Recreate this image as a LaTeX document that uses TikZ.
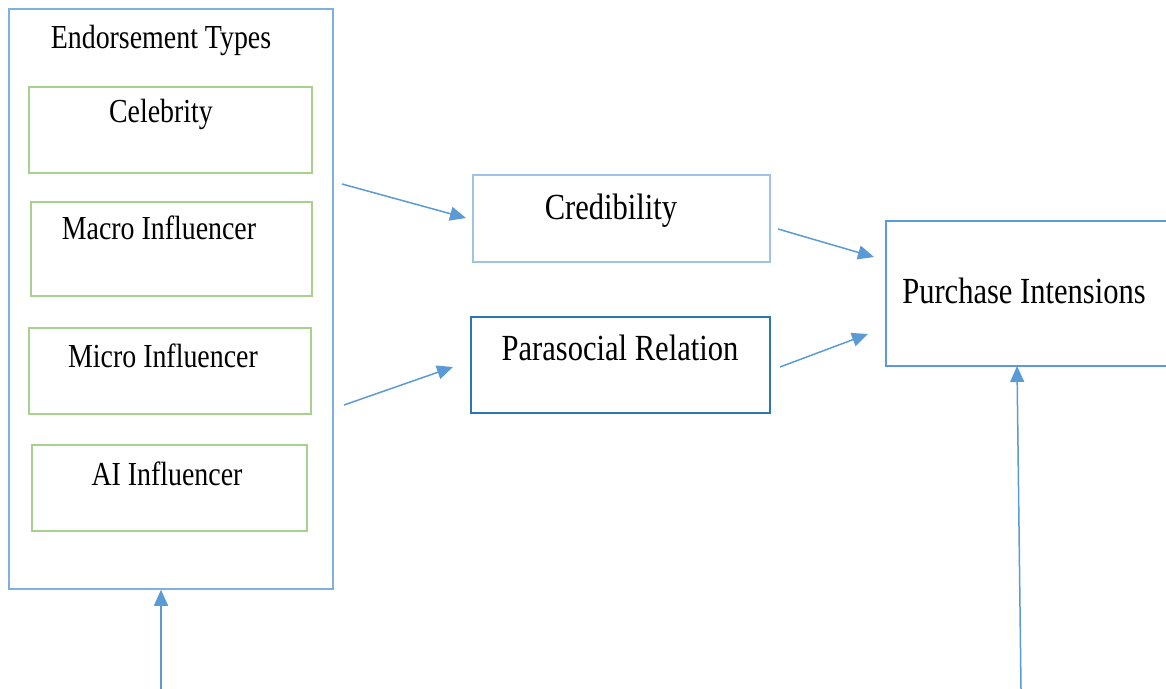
\documentclass[tikz,border=0pt]{standalone}
\usepackage{fontspec}
\setmainfont{Liberation Serif}[FakeStretch=0.83]
\usetikzlibrary{arrows.meta,calc}
\definecolor{outerblue}{HTML}{7EB0E0}
\definecolor{lightblue}{HTML}{9DC3E6}
\definecolor{darkblue}{HTML}{2E75B6}
\definecolor{midblue}{HTML}{5B9BD5}
\definecolor{leafgreen}{HTML}{A9D18E}
\tikzset{
  box/.style={draw, rectangle, inner sep=0pt},
  typebox/.style={box, draw=leafgreen, line width=0.6pt},
  label text/.style={anchor=base, inner sep=0pt, font=\fontsize{16.8}{20}\selectfont},
  big text/.style={label text, font=\fontsize{18.4}{22}\selectfont},
  link/.style={draw=midblue, line width=0.75pt, -{Triangle[length=8pt,width=7pt]}}
}
\begin{document}
\begin{tikzpicture}[x=0.5pt,y=-0.5pt]
    \useasboundingbox (0,0) rectangle (1166,689);
    % Tipos de respaldo
    \node[box, draw=outerblue, line width=0.75pt, minimum width=162pt, minimum height=290pt] (types) at (171,299) {};
    \node[label text] (typestitle) at (161,49) {Endorsement Types};
    \node[typebox, minimum width=141.5pt, minimum height=43pt] (celeb) at (170.5,130) {};
    \node[label text] (celebtext) at (161,123) {Celebrity};
    \node[typebox, minimum width=140.5pt, minimum height=47pt] (macro) at (171.5,249) {};
    \node[label text] (macrotext) at (159,240) {Macro Influencer};
    \node[typebox, minimum width=141pt, minimum height=43pt] (micro) at (170,371) {};
    \node[label text] (microtext) at (163,367) {Micro Influencer};
    \node[typebox, minimum width=137.5pt, minimum height=43pt] (ai) at (169.5,488) {};
    \node[label text] (aitext) at (167,485) {AI Influencer};
    % Mediadores
    \node[box, draw=lightblue, line width=1pt, minimum width=148.5pt, minimum height=43.5pt] (cred) at (621.5,218.5) {};
    \node[big text] (credtext) at (611,220) {Credibility};
    \node[box, draw=darkblue, line width=0.6pt, minimum width=149.5pt, minimum height=48pt] (para) at (620.5,365) {};
    \node[big text] (paratext) at (620,361) {Parasocial Relation};
    % Resultado
    \node[box, draw=midblue, line width=0.6pt, minimum width=142pt, minimum height=72.5pt] (purch) at (1028,293.5) {};
    \node[big text] (purchtext) at (1024,304) {Purchase Intensions};
    % Flechas
    \coordinate (s1) at (342,184);
    \coordinate (t1) at (466,218);
    \coordinate (s2) at (344,405);
    \coordinate (t2) at (453,367);
    \coordinate (s3) at (778,229);
    \coordinate (t3) at (874,257);
    \coordinate (s4) at (780,367);
    \coordinate (t4) at (868,334);
    \coordinate (s5) at (161,689);
    \coordinate (s6) at (1021,689);
    \coordinate (t6) at (1017,366);
    \draw[link] (s1) -- (t1);
    \draw[link] (s2) -- (t2);
    \draw[link] (s3) -- (t3);
    \draw[link] (s4) -- (t4);
    \draw[link] (s5) -- (s5 |- types.south);
    \draw[link] (s6) -- (t6);
\end{tikzpicture}
\end{document}
